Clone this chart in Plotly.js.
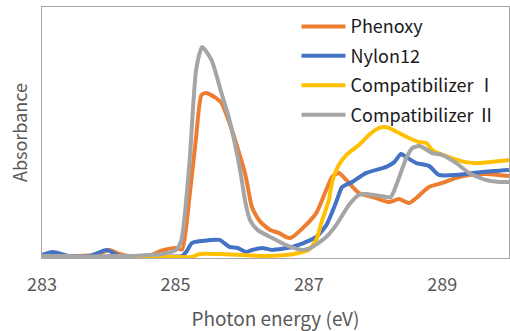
<!DOCTYPE html>
<html>
<head>
<meta charset="utf-8">
<script src="https://cdn.plot.ly/plotly-3.0.1.min.js"></script>
<style>
  html, body { margin: 0; padding: 0; background: #fff; }
  #chart { width: 510px; height: 331px; }
</style>
</head>
<body>
<div id="chart"></div>
<script>
// Photon energy (eV) and absorbance (arbitrary units)
const phenoxyE = [283.0, 283.5, 283.8, 284.01, 284.16, 284.3, 284.6, 284.8, 285.01, 285.1, 285.21, 285.31, 285.39, 285.46, 285.61, 285.69, 285.81, 285.93, 286.05, 286.15, 286.27, 286.42, 286.55, 286.67, 286.73, 286.88, 287.11, 287.26, 287.35, 287.45, 287.56, 287.75, 288.01, 288.2, 288.35, 288.5, 288.61, 288.8, 289.0, 289.21, 289.4, 289.65, 290.0];
const phenoxyA = [0.008, 0.008, 0.012, 0.032, 0.016, 0.008, 0.008, 0.03, 0.04, 0.034, 0.243, 0.482, 0.649, 0.657, 0.637, 0.618, 0.538, 0.44, 0.33, 0.2, 0.145, 0.112, 0.1, 0.082, 0.08, 0.112, 0.179, 0.271, 0.323, 0.339, 0.311, 0.259, 0.239, 0.223, 0.235, 0.219, 0.239, 0.283, 0.299, 0.319, 0.331, 0.335, 0.327];

const nylonE = [283.0, 283.16, 283.41, 283.71, 283.97, 284.16, 284.5, 285.0, 285.1, 285.16, 285.25, 285.4, 285.66, 285.81, 285.93, 286.06, 286.15, 286.3, 286.45, 286.75, 286.96, 287.11, 287.26, 287.41, 287.5, 287.65, 287.86, 288.16, 288.28, 288.38, 288.46, 288.61, 288.8, 288.95, 289.21, 289.59, 290.0];
const nylonA = [0.012, 0.024, 0.008, 0.008, 0.032, 0.008, 0.006, 0.006, 0.008, 0.024, 0.06, 0.068, 0.072, 0.044, 0.04, 0.024, 0.032, 0.04, 0.032, 0.044, 0.064, 0.084, 0.13, 0.223, 0.283, 0.303, 0.339, 0.363, 0.382, 0.414, 0.402, 0.378, 0.367, 0.331, 0.331, 0.343, 0.351];

const compIE = [283.0, 283.3, 283.7, 284.3, 284.8, 285.0, 285.25, 285.36, 285.66, 286.3, 286.66, 286.85, 287.0, 287.11, 287.2, 287.3, 287.35, 287.45, 287.56, 287.75, 287.9, 288.05, 288.13, 288.2, 288.35, 288.5, 288.65, 288.76, 288.85, 289.1, 289.35, 289.55, 290.0];
const compIA = [0.008, 0.006, 0.0, 0.002, 0.004, 0.004, 0.004, 0.016, 0.016, 0.008, 0.012, 0.02, 0.032, 0.072, 0.151, 0.231, 0.303, 0.371, 0.41, 0.45, 0.49, 0.518, 0.522, 0.518, 0.498, 0.478, 0.462, 0.458, 0.43, 0.402, 0.382, 0.378, 0.39];

const compIIE = [283.0, 283.4, 283.7, 284.0, 284.3, 284.61, 284.8, 285.01, 285.09, 285.21, 285.31, 285.4, 285.54, 285.69, 285.8, 285.88, 285.97, 286.05, 286.12, 286.23, 286.42, 286.67, 286.9, 287.05, 287.26, 287.41, 287.6, 287.75, 287.86, 288.16, 288.23, 288.35, 288.46, 288.55, 288.65, 288.7, 288.85, 289.0, 289.21, 289.4, 289.65, 289.85, 290.0];
const compIIA = [0.008, 0.008, 0.006, 0.008, 0.008, 0.012, 0.016, 0.032, 0.072, 0.378, 0.749, 0.841, 0.789, 0.657, 0.56, 0.47, 0.35, 0.22, 0.15, 0.112, 0.084, 0.05, 0.032, 0.044, 0.084, 0.131, 0.211, 0.251, 0.255, 0.243, 0.243, 0.319, 0.398, 0.438, 0.446, 0.442, 0.418, 0.41, 0.378, 0.339, 0.311, 0.303, 0.303];

const seriesNames = ['Phenoxy', 'Nylon12', 'Compatibilizer Ⅰ', 'Compatibilizer Ⅱ'];
const seriesColors = ['#ED7D31', '#4472C4', '#FFC000', '#A5A5A5'];
const xTickVals = [283, 285, 287, 289];
const xTickText = ['283', '285', '287', '289'];

const xs = [phenoxyE, nylonE, compIE, compIIE];
const ys = [phenoxyA, nylonA, compIA, compIIA];

const FONT = '"Noto Sans CJK JP", "Noto Sans", sans-serif';

const traces = seriesNames.map((name, i) => ({
  type: 'scatter',
  mode: 'lines',
  name: name,
  x: xs[i],
  y: ys[i],
  legendgroup: 'g' + i,
  line: { color: seriesColors[i], width: 4, shape: 'spline', smoothing: 0.6 },
  hoverinfo: 'x+y+name'
}));

const layout = {
  width: 510,
  height: 331,
  margin: { l: 42, r: 1, t: 7, b: 73 },
  paper_bgcolor: '#ffffff',
  plot_bgcolor: '#ffffff',
  font: { family: FONT, color: '#404040' },
  showlegend: true,
  legend: {
    x: 0.545, y: 0.995, xanchor: 'left', yanchor: 'top',
    bgcolor: 'rgba(255,255,255,0)',
    borderwidth: 0,
    itemwidth: 44,
    font: { family: FONT, size: 18, color: '#1a1a1a' },
    tracegroupgap: 3,
    traceorder: 'grouped'
  },
  xaxis: {
    range: [283, 290],
    tickmode: 'array',
    tickvals: xTickVals,
    ticktext: xTickText,
    ticks: '',
    showgrid: false,
    zeroline: false,
    showline: true,
    mirror: true,
    linecolor: '#a6a6a6',
    linewidth: 1,
    tickfont: { family: FONT, size: 18, color: '#595959' },
    ticklabelstandoff: 10,
    title: { text: 'Photon energy (eV)', font: { family: FONT, size: 19, color: '#595959' }, standoff: 19 }
  },
  yaxis: {
    range: [0, 1],
    showticklabels: false,
    ticks: '',
    showgrid: false,
    zeroline: false,
    showline: true,
    mirror: true,
    linecolor: '#a6a6a6',
    linewidth: 1,
    title: { text: 'Absorbance', font: { family: FONT, size: 18, color: '#595959' }, standoff: 8 }
  }
};

Plotly.newPlot('chart', traces, layout, { displayModeBar: false, staticPlot: true });
</script>
</body>
</html>
